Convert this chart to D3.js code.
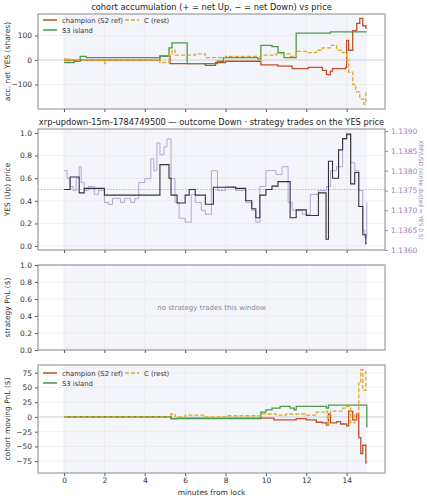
<!DOCTYPE html>
<html><head><meta charset="utf-8">
<script src="https://cdn.jsdelivr.net/npm/d3@7"></script>
<style>body{margin:0;background:#fff}text{font-family:"DejaVu Sans",sans-serif}</style>
</head><body>
<script>
// step series as [minute, value]
var accChampion = [[0,0],[4.75,17],[5.25,-15],[7,-22],[7.5,-10],[8,-5],[9.75,-20],[10.6,-25],[11.3,-35],[12.1,-30],[12.8,-42],[13,-60],[13.2,-45],[13.3,-35],[13.95,-30],[14.0,80],[14.1,40],[14.3,120],[14.5,150],[14.65,170],[14.8,140],[14.95,130],[15,130]];
var accS3 = [[0,-10],[0.5,-5],[0.8,15],[1.1,10],[4.75,15],[5.2,50],[5.35,70],[6.1,-15],[7.6,-5],[7.9,10],[9.6,5],[9.75,60],[10.3,55],[10.6,30],[10.9,10],[11.5,110],[13.2,115],[15,115]];
var accC = [[0,5],[0.1,-5],[0.2,5],[0.35,0],[2,0],[2.02,-15],[2.05,0],[4.75,-10],[5.2,20],[5.35,40],[5.5,20],[6.5,25],[7.0,10],[8,15],[9.75,20],[10.5,25],[11.2,15],[11.5,35],[12,30],[12.5,40],[12.8,50],[13.2,60],[13.5,40],[13.8,30],[14,0],[14.1,-50],[14.3,-100],[14.45,-130],[14.65,-160],[14.85,-180],[14.95,-130],[15,-130]];

var yesPrice = [[0,0.5],[0.3,0.61],[0.75,0.47],[1.0,0.51],[2.0,0.45],[4.75,0.72],[5.2,0.6],[5.3,0.45],[5.6,0.38],[6.0,0.45],[6.2,0.5],[6.5,0.45],[7.0,0.37],[7.4,0.52],[8.5,0.51],[9.0,0.4],[9.3,0.33],[9.5,0.25],[9.7,0.45],[10,0.5],[10.3,0.53],[10.6,0.57],[11.2,0.25],[11.5,0.32],[12,0.27],[12.6,0.47],[12.98,0.06],[13.1,0.75],[13.3,0.6],[13.6,0.85],[13.8,0.95],[14.0,0.99],[14.2,0.55],[14.4,0.65],[14.6,0.35],[14.8,0.1],[14.95,0.02],[15,0.02]];
var xrpPrice = [[0,1.1380],[0.15,1.1378],[0.3,1.1376],[0.45,1.1375],[0.6,1.1378],[0.75,1.1381],[0.85,1.1377],[1.0,1.1375],[1.2,1.1376],[1.5,1.1374],[1.7,1.1375],[2.0,1.1372],[2.2,1.13715],[2.4,1.1373],[2.6,1.1373],[2.8,1.1372],[3.0,1.1373],[3.3,1.1372],[3.5,1.1373],[3.7,1.1377],[4.0,1.1378],[4.3,1.1383],[4.45,1.1380],[4.6,1.1387],[4.75,1.1384],[4.95,1.1386],[5.1,1.1388],[5.3,1.1378],[5.5,1.1372],[5.7,1.1368],[6.0,1.1367],[6.3,1.1374],[6.5,1.1372],[6.8,1.1370],[7,1.1369],[7.3,1.1380],[7.6,1.1375],[8.0,1.1376],[8.5,1.1375],[9,1.1372],[9.3,1.1370],[9.5,1.1367],[9.7,1.1376],[10,1.1380],[10.5,1.1379],[10.8,1.1381],[11.1,1.1372],[11.3,1.1370],[11.8,1.1369],[12.2,1.1374],[12.6,1.1375],[13,1.1376],[13.2,1.1380],[13.5,1.1381],[13.8,1.1388],[14.0,1.1389],[14.2,1.1382],[14.4,1.1380],[14.6,1.1375],[14.8,1.1365],[14.9,1.1363],[15,1.1372]];

var pnlChampion = [[0,0],[5.3,-3],[5.6,-2],[9.8,-2],[10.4,-5],[11.5,-3],[12.0,-5],[12.5,-9],[12.8,-10],[13.0,-14],[13.1,5],[13.2,-10],[13.5,-8],[13.7,-12],[14.0,-15],[14.1,10],[14.3,-5],[14.5,5],[14.6,-35],[14.7,-62],[14.8,-48],[14.95,-78],[15,-78]];
var pnlS3 = [[0,0],[5.3,-3],[9.75,8],[10.0,12],[10.3,15],[10.7,18],[11.2,15],[11.4,12],[11.5,18],[13,15],[13.1,20],[14.98,20],[15,-18]];
var pnlC = [[0,0],[5.3,5],[5.5,0],[6,3],[7,0],[8,2],[9.8,5],[10.5,3],[11,5],[12,3],[12.5,8],[13,10],[13.05,-15],[13.1,5],[13.2,10],[13.8,15],[14,18],[14.2,-10],[14.4,5],[14.6,60],[14.7,80],[14.8,45],[14.95,80],[15,80]];

var xTicks = [0,2,4,6,8,10,12,14];
var colChamp = "#c0502a", colS3 = "#4a9a4a", colC = "#e0a82a";

var svg = d3.select("body").append("svg").attr("width",427).attr("height",500);
var L = 38, R = 385;
var x = d3.scaleLinear().domain([-1.29,15.9]).range([L,R]);

var last = false;
function panel(top, bottom, dom, ticks, fmt, ylabel){
  var y = d3.scaleLinear().domain(dom).range([bottom,top]);
  var g = svg.append("g");
  g.append("rect").attr("x",x(0)).attr("width",x(15)-x(0)).attr("y",top).attr("height",bottom-top).attr("fill","#f3f5fb");
  // grid
  g.selectAll(".gx").data(xTicks).enter().append("line").attr("x1",d=>x(d)).attr("x2",d=>x(d)).attr("y1",top).attr("y2",bottom).attr("stroke","#e6e6e6").attr("stroke-width",0.6);
  g.selectAll(".gy").data(ticks).enter().append("line").attr("x1",L).attr("x2",R).attr("y1",d=>y(d)).attr("y2",d=>y(d)).attr("stroke","#e6e6e6").attr("stroke-width",0.6);
  var ay = g.append("g").attr("transform","translate("+L+",0)").call(d3.axisLeft(y).tickValues(ticks).tickFormat(fmt).tickSize(3));
  var ax = g.append("g").attr("transform","translate(0,"+bottom+")").call(d3.axisBottom(x).tickValues(xTicks).tickFormat(last?d3.format("d"):"").tickSize(3).tickPadding(2));
  [ay,ax].forEach(a=>{a.select(".domain").remove();a.selectAll("text").attr("font-size",7.5).attr("fill","#333");a.selectAll("line").attr("stroke","#555");});
  g.append("rect").attr("x",L).attr("y",top).attr("width",R-L).attr("height",bottom-top).attr("fill","none").attr("stroke","#888").attr("stroke-width",1);
  g.append("text").attr("transform","translate(10,"+(top+bottom)/2+") rotate(-90)").attr("text-anchor","middle").attr("font-size",7.5).attr("fill","#333").text(ylabel);
  return {g:g,y:y};
}
function stepLine(g, data, y, col, dash, w){
  g.append("path").datum(data).attr("d",d3.line().x(d=>x(d[0])).y(d=>y(d[1])).curve(d3.curveStepAfter))
   .attr("fill","none").attr("stroke",col).attr("stroke-width",w||1.3).attr("stroke-dasharray",dash||null);
}
function legend(g, lx, ly){
  var items=[[colChamp,"champion (S2 ref)",null,0,0],[colC,"C (rest)","4,2",82,0],[colS3,"S3 island",null,0,10]];
  items.forEach(it=>{
    g.append("line").attr("x1",lx+it[3]).attr("x2",lx+it[3]+14).attr("y1",ly+it[4]).attr("y2",ly+it[4]).attr("stroke",it[0]).attr("stroke-width",1.5).attr("stroke-dasharray",it[2]);
    g.append("text").attr("x",lx+it[3]+19).attr("y",ly+it[4]+2.5).attr("font-size",6.8).attr("fill","#333").text(it[1]);
  });
}
function title(t, yy){ svg.append("text").attr("x",(L+R)/2).attr("y",yy).attr("text-anchor","middle").attr("font-size",8.3).attr("fill","#222").text(t); }

// panel 1
title("cohort accumulation (+ = net Up, \u2212 = net Down) vs price", 10);
var p1 = panel(14,109,[-200,188],[-100,0,100],d3.format("d"),"acc. net YES (shares)");
p1.g.append("line").attr("x1",L).attr("x2",R).attr("y1",p1.y(0)).attr("y2",p1.y(0)).attr("stroke","#ccc").attr("stroke-width",0.8);
stepLine(p1.g,accChampion,p1.y,colChamp);
stepLine(p1.g,accS3,p1.y,colS3);
stepLine(p1.g,accC,p1.y,colC,"4,2");
legend(p1.g,43,20);

// panel 2
title("xrp-updown-15m-1784749500 \u2014 outcome Down \u00b7 strategy trades on the YES price", 125);
var p2 = panel(129,250,[-0.035,1.035],[0,0.2,0.4,0.6,0.8,1.0],d3.format(".1f"),"YES (Up) price");
var y2r = d3.scaleLinear().domain([1.1360,1.1390]).range([250,131]);
var ar = p2.g.append("g").attr("transform","translate("+R+",0)").call(d3.axisRight(y2r).tickValues([1.1360,1.1365,1.1370,1.1375,1.1380,1.1385,1.1390]).tickFormat(d3.format(".4f")).tickSize(3));
ar.select(".domain").remove();ar.selectAll("text").attr("font-size",7.5).attr("fill","#9a7fc0");ar.selectAll("line").attr("stroke","#9a7fc0");
p2.g.append("text").attr("transform","translate(419,190) rotate(90)").attr("text-anchor","middle").attr("font-size",5.8).attr("fill","#9a7fc0").text("XRP/USD (strike dotted = YES 0.5)");
p2.g.append("line").attr("x1",L).attr("x2",R).attr("y1",p2.y(0.5)).attr("y2",p2.y(0.5)).attr("stroke","#aaa").attr("stroke-width",0.8).attr("stroke-dasharray","1.5,1.5");
p2.g.append("path").datum(xrpPrice).attr("d",d3.line().x(d=>x(d[0])).y(d=>y2r(d[1])).curve(d3.curveStepAfter)).attr("fill","none").attr("stroke","#b4a6d6").attr("stroke-width",1);
stepLine(p2.g,yesPrice,p2.y,"#333",null,1.1);

// panel 3
var p3 = panel(265,350,[0,1],[0,0.2,0.4,0.6,0.8,1.0],d3.format(".1f"),"strategy PnL ($)");
p3.g.append("text").attr("x",(L+R)/2).attr("y",310).attr("text-anchor","middle").attr("font-size",7).attr("fill","#888").text("no strategy trades this window");

// panel 4
last = true;
var p4 = panel(365,473,[-95,88],[-75,-50,-25,0,25,50,75],d3.format("d"),"cohort moving PnL ($)");
p4.g.append("line").attr("x1",L).attr("x2",R).attr("y1",p4.y(0)).attr("y2",p4.y(0)).attr("stroke","#ccc").attr("stroke-width",0.8);
stepLine(p4.g,pnlChampion,p4.y,colChamp);
stepLine(p4.g,pnlS3,p4.y,colS3);
stepLine(p4.g,pnlC,p4.y,colC,"4,2");
legend(p4.g,43,373);
svg.append("text").attr("x",(L+R)/2).attr("y",495).attr("text-anchor","middle").attr("font-size",7.5).attr("fill","#333").text("minutes from lock");
</script>
</body></html>
